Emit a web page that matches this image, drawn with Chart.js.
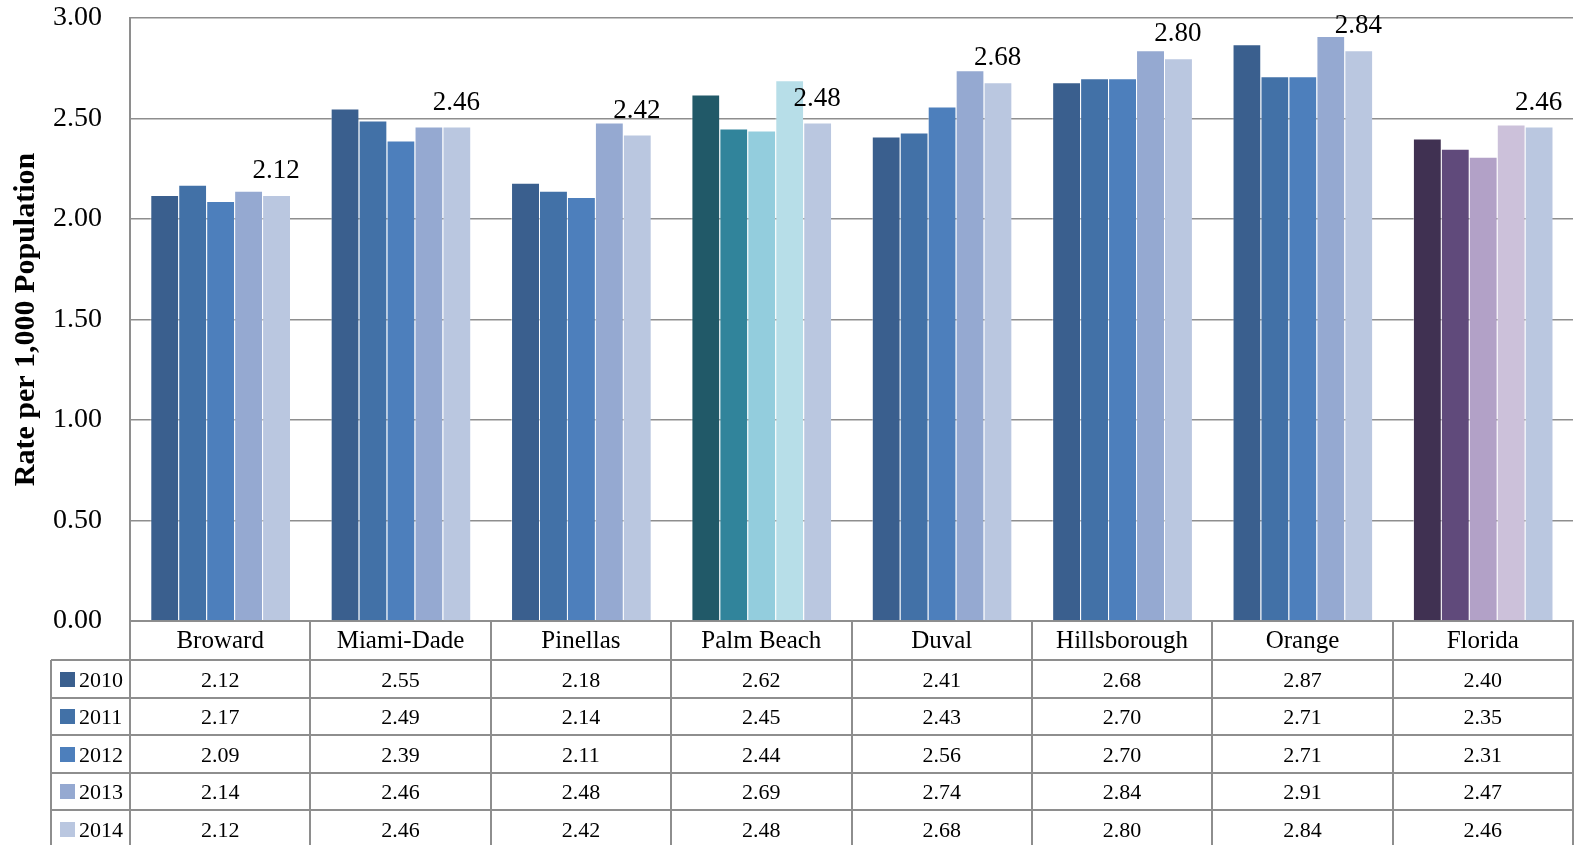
<!DOCTYPE html>
<html>
<head>
<meta charset="utf-8">
<script src="https://cdn.jsdelivr.net/npm/chart.js@4.4.1/dist/chart.umd.min.js"></script>
<style>
  html, body { margin: 0; padding: 0; background: #fff; }
  #wrap { width: 1579px; height: 845px; }
</style>
</head>
<body>
<div id="wrap"><canvas id="rateChart" width="1579" height="845"></canvas></div>
<script>
// data (rate per 1,000 population)
const counties = ['Broward', 'Miami-Dade', 'Pinellas', 'Palm Beach', 'Duval', 'Hillsborough', 'Orange', 'Florida'];
const years = ['2010', '2011', '2012', '2013', '2014'];
const rate2010 = [2.12, 2.55, 2.18, 2.62, 2.41, 2.68, 2.87, 2.40];
const rate2011 = [2.17, 2.49, 2.14, 2.45, 2.43, 2.70, 2.71, 2.35];
const rate2012 = [2.09, 2.39, 2.11, 2.44, 2.56, 2.70, 2.71, 2.31];
const rate2013 = [2.14, 2.46, 2.48, 2.69, 2.74, 2.84, 2.91, 2.47];
const rate2014 = [2.12, 2.46, 2.42, 2.48, 2.68, 2.80, 2.84, 2.46];
const yTicks = [0, 0.5, 1, 1.5, 2, 2.5, 3];

const series = [rate2010, rate2011, rate2012, rate2013, rate2014];

// colours: blue for counties, teal for Palm Beach, purple for Florida
const blues = ['#3A5F8E', '#4271A7', '#4D7FBC', '#95A9D1', '#BAC7E0'];
const teals = ['#215968', '#31849B', '#93CDDD', '#B7DEE8', '#BAC7E0'];
const purples = ['#403152', '#604A7B', '#B2A1C7', '#CCC1DA', '#BAC7E0'];

const FONT = "'Liberation Serif', 'Times New Roman', serif";
const LINE = '#8e8e8e';

function colorsFor(s) {
    return counties.map(c => c === 'Palm Beach' ? teals[s] : c === 'Florida' ? purples[s] : blues[s]);
}

// value labels over the 2014 bars
const topLabels = {
    id: 'topLabels',
    afterDatasetsDraw(chart) {
        const ctx = chart.ctx;
        const meta = chart.getDatasetMeta(4);
        ctx.save();
        ctx.font = '27px ' + FONT;
        ctx.fillStyle = '#000';
        ctx.textAlign = 'center';
        ctx.textBaseline = 'alphabetic';
        meta.data.forEach((bar, i) => {
            ctx.fillText(rate2014[i].toFixed(2), bar.x, bar.y - 17);
        });
        ctx.restore();
    }
};

// data table under the plot
const dataTable = {
    id: 'dataTable',
    afterDraw(chart) {
        const { ctx, chartArea, scales: { x } } = chart;
        const colW = x.width / counties.length;
        const top = chartArea.bottom;
        const headH = 39;
        const rowH = 37.5;
        const tableLeft = 51;
        const right = x.right;
        const bottom = chart.height + 2;

        ctx.save();
        ctx.strokeStyle = LINE;
        ctx.lineWidth = 2;

        // horizontal rules
        for (let r = 0; r < years.length; r++) {
            const y = Math.round(top + headH + r * rowH);
            ctx.beginPath();
            ctx.moveTo(tableLeft, y);
            ctx.lineTo(right, y);
            ctx.stroke();
        }
        // vertical rules
        ctx.beginPath();
        ctx.moveTo(tableLeft, top + headH);
        ctx.lineTo(tableLeft, bottom);
        for (let c = 0; c <= counties.length; c++) {
            const xx = Math.round(x.left + c * colW);
            ctx.moveTo(xx, top);
            ctx.lineTo(xx, bottom);
        }
        ctx.stroke();

        // county names
        ctx.fillStyle = '#000';
        ctx.textAlign = 'center';
        ctx.textBaseline = 'middle';
        ctx.font = '25px ' + FONT;
        counties.forEach((c, i) => {
            ctx.fillText(c, x.getPixelForValue(i), top + headH / 2 + 1);
        });

        // rows
        ctx.font = '22px ' + FONT;
        years.forEach((yr, r) => {
            const cy = top + headH + r * rowH + rowH / 2 + 1;
            ctx.fillStyle = blues[r];
            ctx.fillRect(60, Math.round(cy - 8), 15, 15);
            ctx.fillStyle = '#000';
            ctx.textAlign = 'left';
            ctx.fillText(yr, 79, cy + 1);
            ctx.textAlign = 'center';
            series[r].forEach((v, i) => {
                ctx.fillText(v.toFixed(2), x.getPixelForValue(i), cy + 1);
            });
        });
        ctx.restore();
    }
};

const ctx = document.getElementById('rateChart').getContext('2d');
new Chart(ctx, {
    type: 'bar',
    data: {
        labels: counties,
        datasets: series.map((vals, s) => ({
            label: years[s],
            data: vals,
            backgroundColor: colorsFor(s),
            borderColor: 'rgba(255,255,255,0.45)',
            borderWidth: { top: 1, left: 1, right: 0, bottom: 0 },
            borderSkipped: 'bottom',
            barPercentage: 1,
            categoryPercentage: 0.775
        }))
    },
    options: {
        responsive: false,
        devicePixelRatio: 1,
        animation: false,
        layout: { padding: { top: 18, right: 6, bottom: 224, left: 0 } },
        plugins: {
            legend: { display: false },
            tooltip: { enabled: false }
        },
        scales: {
            x: {
                grid: { display: false, drawTicks: false },
                border: { display: true, color: LINE, width: 2 },
                ticks: { display: false }
            },
            y: {
                min: 0,
                max: 3,
                afterFit(scale) {
                    scale.width = 130;
                    scale.paddingTop = 0;
                    scale.paddingBottom = 0;
                },
                afterBuildTicks(scale) { scale.ticks = yTicks.map(v => ({ value: v })); },
                grid: { color: LINE, lineWidth: 1.5, drawTicks: false },
                border: { display: true, color: LINE, width: 2 },
                ticks: {
                    padding: 28,
                    color: '#000',
                    font: { family: FONT, size: 28 },
                    callback: v => Number(v).toFixed(2)
                },
                title: {
                    display: true,
                    text: 'Rate per 1,000 Population',
                    color: '#000',
                    font: { family: FONT, size: 30, weight: 'bold' },
                    padding: { top: 8, bottom: 0 }
                }
            }
        }
    },
    plugins: [topLabels, dataTable]
});
</script>
</body>
</html>
